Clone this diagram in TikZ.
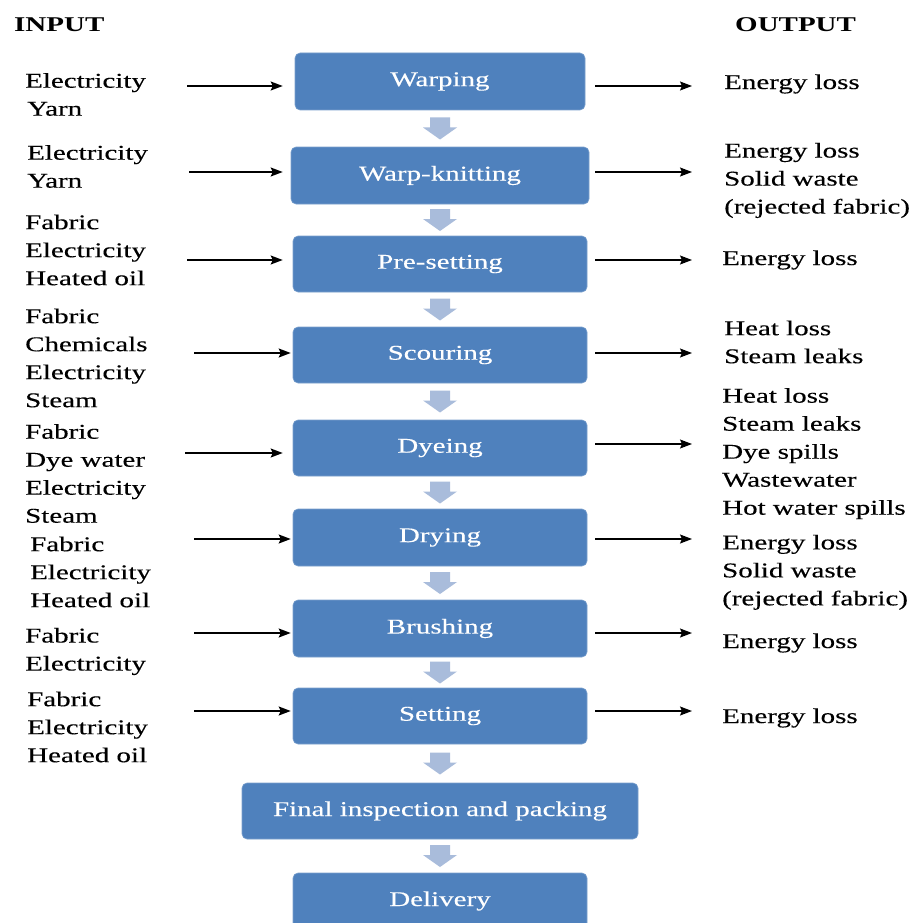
\documentclass[tikz,border=0pt]{standalone}
\usepackage{fontspec}
\setmainfont{Liberation Serif}[FakeStretch=1.38, UprightFeatures={FakeBold=0.25}]
\usetikzlibrary{arrows.meta,calc}
\definecolor{boxblue}{HTML}{4F81BD}
\definecolor{flowarrow}{HTML}{A9BCDB}
\tikzset{
  txt/.style={font=\fontsize{21pt}{28pt}\selectfont, inner sep=0pt, align=left, anchor=west, text=black},
  hdr/.style={font=\fontsize{21pt}{28pt}\selectfont\bfseries, inner sep=0pt, anchor=west},
  pbox/.style={fill=boxblue, draw=boxblue!75!white, line width=0.6pt, rounded corners=5pt,
    text=white, font=\fontsize{21pt}{28pt}\selectfont, inner sep=0pt},
  arr/.style={line width=1.3pt, -{Stealth[length=12pt,width=9pt,inset=2pt]}},
  barrow/.style={fill=flowarrow},
}
\newcommand{\flowdown}[2]{%
  \fill[barrow] ($(#1.south)!0.5!(#2.north)$) ++(-10,-11) -- ++(20,0) -- ++(0,10) -- ++(7,0)
    -- ++(-17,12) -- ++(-17,-12) -- ++(7,0) -- cycle;}
\begin{document}
\begin{tikzpicture}[x=1pt,y=-1pt]
\useasboundingbox (0,0) rectangle (918,923);
\clip (0,0) rectangle (918,923);
\fill[white] (0,0) rectangle (918,923);

% headers
\node[hdr] (hin) at (14,25) {INPUT};
\node[hdr] (hout) at (735,25) {OUTPUT};

% process boxes
\node[pbox, minimum width=290pt, minimum height=57pt] (b1) at (440,81.5) {Warping};
\node[pbox, minimum width=298pt, minimum height=57pt] (b2) at (440,175.5) {Warp-knitting};
\node[pbox, minimum width=294pt, minimum height=56pt] (b3) at (440,264) {Pre-setting};
\node[pbox, minimum width=294pt, minimum height=56pt] (b4) at (440,355) {Scouring};
\node[pbox, minimum width=294pt, minimum height=56pt] (b5) at (440,448) {Dyeing};
\node[pbox, minimum width=294pt, minimum height=57pt] (b6) at (440,537.5) {Drying};
\node[pbox, minimum width=294pt, minimum height=57pt] (b7) at (440,628.5) {Brushing};
\node[pbox, minimum width=294pt, minimum height=56pt] (b8) at (440,716) {Setting};
\node[pbox, minimum width=396pt, minimum height=56pt] (b9) at (440,811) {Final inspection and packing};
\node[pbox, minimum width=294pt, minimum height=56pt] (b10) at (440,901) {Delivery};

% flow arrows
\flowdown{b1}{b2}
\flowdown{b2}{b3}
\flowdown{b3}{b4}
\flowdown{b4}{b5}
\flowdown{b5}{b6}
\flowdown{b6}{b7}
\flowdown{b7}{b8}
\flowdown{b8}{b9}
\flowdown{b9}{b10}

% input texts
\node[txt] (in1) at (25,94.5) {Electricity\\\hspace*{2pt}Yarn};
\node[txt] (in2) at (27,166.5) {Electricity\\Yarn};
\node[txt] (in3) at (25,250) {Fabric\\Electricity\\Heated oil};
\node[txt] (in4) at (25,358) {Fabric\\Chemicals\\Electricity\\Steam};
\node[txt] (in5) at (25,473.5) {Fabric\\Dye water\\Electricity\\Steam};
\node[txt] (in6) at (30,572) {Fabric\\Electricity\\Heated oil};
\node[txt] (in7) at (25,651.5) {Fabric\\Electricity};
\node[txt] (in8) at (27,727) {Fabric\\Electricity\\Heated oil};

% output texts
\node[txt] (out1) at (724,84) {Energy loss};
\node[txt] (out2) at (724,180.5) {Energy loss\\Solid waste\\(rejected fabric)};
\node[txt] (out3) at (722,260) {Energy loss};
\node[txt] (out4) at (724,342) {Heat loss\\Steam leaks};
\node[txt] (out5) at (722,453.6) {Heat loss\\Steam leaks\\Dye spills\\Wastewater\\Hot water spills};
\node[txt] (out6) at (722,572.3) {Energy loss\\Solid waste\\(rejected fabric)};
\node[txt] (out7) at (722,643) {Energy loss};
\node[txt] (out8) at (722,718) {Energy loss};

% input arrow start points
\coordinate (ia1) at (187,86);
\coordinate (ia2) at (189,172);
\coordinate (ia3) at (187,260);
\coordinate (ia4) at (194,353);
\coordinate (ia5) at (185,453);
\coordinate (ia6) at (194,539);
\coordinate (ia7) at (194,633);
\coordinate (ia8) at (194,711);
\draw[arr, shorten >=12pt] (ia1) -- (ia1 -| b1.west);
\draw[arr, shorten >=8pt] (ia2) -- (ia2 -| b2.west);
\draw[arr, shorten >=10pt] (ia3) -- (ia3 -| b3.west);
\draw[arr, shorten >=2pt] (ia4) -- (ia4 -| b4.west);
\draw[arr, shorten >=10pt] (ia5) -- (ia5 -| b5.west);
\draw[arr, shorten >=2pt] (ia6) -- (ia6 -| b6.west);
\draw[arr, shorten >=2pt] (ia7) -- (ia7 -| b7.west);
\draw[arr, shorten >=2pt] (ia8) -- (ia8 -| b8.west);

% output arrow end points
\coordinate (oa1) at (692,86);
\coordinate (oa2) at (692,172);
\coordinate (oa3) at (692,260);
\coordinate (oa4) at (692,353);
\coordinate (oa5) at (692,444);
\coordinate (oa6) at (692,539);
\coordinate (oa7) at (692,633);
\coordinate (oa8) at (692,711);
\draw[arr, shorten <=10pt] (oa1 -| b1.east) -- (oa1);
\draw[arr, shorten <=6pt] (oa2 -| b2.east) -- (oa2);
\draw[arr, shorten <=8pt] (oa3 -| b3.east) -- (oa3);
\draw[arr, shorten <=8pt] (oa4 -| b4.east) -- (oa4);
\draw[arr, shorten <=8pt] (oa5 -| b5.east) -- (oa5);
\draw[arr, shorten <=8pt] (oa6 -| b6.east) -- (oa6);
\draw[arr, shorten <=8pt] (oa7 -| b7.east) -- (oa7);
\draw[arr, shorten <=8pt] (oa8 -| b8.east) -- (oa8);
\end{tikzpicture}
\end{document}
